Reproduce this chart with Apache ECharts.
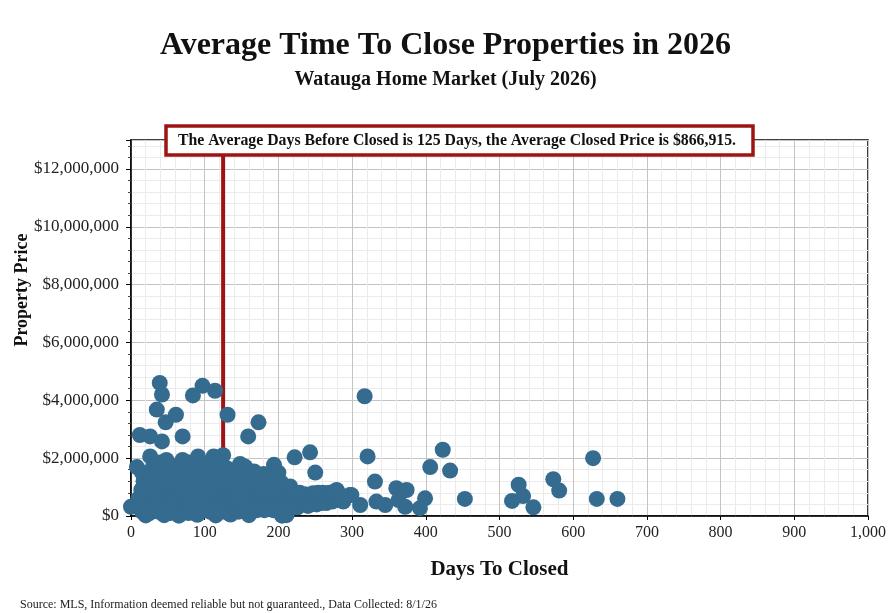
<!DOCTYPE html>
<html lang="en" style="background: #FFFFFF;height: 100%">
<head>
  <meta charset="utf-8" />
  <title>Average Time To Close Properties in 2026</title>
  <script src="https://cdn.jsdelivr.net/npm/echarts@6/dist/echarts.min.js"></script>
</head>
<body style="margin: 0;height: 100%">
<div id="chart" style="width: 891px;height: 613px"></div>
<script>
    // days on market before closing, and closed price, per property
    const days = [
        39, 42, 35, 47, 61, 12, 26, 42, 70, 84, 97, 114, 131, 159, 173,
        8, 26, 48, 70, 91, 112, 125, 148, 167, 194, 195, 222, 243, 250, 216, 279, 297, 0, 103,
        317, 321, 331, 423, 406, 433, 453, 627, 632, 660, 573, 581, 526, 517, 532, 546,
        360, 374, 399, 392, 372, 363, 345, 333, 311, 299, 266, 247, 232, 211, 211,
        15, 30, 38, 55, 62, 80, 85, 100, 108, 118, 130, 140, 150, 180, 200, 155,
        20, 45, 65, 90, 115, 135, 160, 205,
        10, 12, 14, 15, 17, 18, 20, 21, 22, 24, 25, 27, 28, 29, 30, 31, 32, 33, 34, 35,
        36, 37, 38, 40, 41, 43, 44, 45, 46, 47, 49, 50, 51, 52, 53, 54, 55, 56, 57, 58,
        59, 60, 62, 63, 64, 65, 66, 67, 68, 69, 71, 72, 73, 74, 75, 76, 77, 78, 79, 80,
        81, 82, 83, 85, 86, 87, 88, 89, 90, 92, 93, 94, 95, 96, 98, 99, 100, 101, 102, 104,
        105, 106, 107, 108, 109, 110, 111, 113, 115, 116, 117, 118, 119, 120, 121, 122, 123, 124, 126, 127,
        128, 129, 130, 132, 133, 134, 135, 136, 137, 138, 139, 140, 141, 142, 143, 144, 145, 146, 147, 149,
        150, 151, 152, 153, 154, 155, 156, 157, 158, 160, 161, 162, 163, 164, 165, 166, 168, 169, 170, 171,
        172, 174, 175, 176, 177, 178, 180, 181, 182, 184, 185, 186, 187, 188, 190, 191, 192, 193, 196, 197,
        198, 199, 200, 202, 203, 204, 205, 206, 207, 208, 209, 212, 213, 214, 215, 217, 218, 219, 220, 221,
        223, 224, 225, 226, 228, 229, 230, 231, 233, 234, 236, 237, 238, 240, 241, 242, 244, 245, 246, 248,
        249, 251, 252, 254, 255, 256, 258, 259, 260, 262, 263, 264, 265, 267, 268, 270, 272, 273, 275, 276,
        278, 280, 282, 285, 288
    ];
    const prices = [
        4600000, 4200000, 3680000, 3240000, 3500000, 2800000, 2750000, 2580000, 2750000, 4170000, 4500000, 4330000, 3500000, 2750000, 3240000,
        1690000, 2060000, 1940000, 1940000, 2060000, 2060000, 2100000, 1800000, 1540000, 1770000, 1360000, 2030000, 2200000, 1500000, 1020000, 900000, 730000, 320000, 1420000,
        4140000, 2060000, 1190000, 2290000, 1690000, 1570000, 590000, 2000000, 590000, 590000, 1270000, 880000, 1080000, 520000, 690000, 300000,
        960000, 900000, 610000, 270000, 320000, 550000, 380000, 500000, 380000, 730000, 790000, 790000, 610000, 90000, 30000,
        1500000, 1700000, 1850000, 1750000, 1600000, 1850000, 1550000, 1750000, 1600000, 1800000, 1650000, 1500000, 1600000, 1450000, 1500000, 1700000,
        20000, 30000, 10000, 40000, 20000, 50000, 30000, 10000,
        600000, 300000, 900000, 150000, 1200000, 450000, 750000, 250000, 1050000, 500000, 100000, 1350000, 650000, 350000, 850000, 200000, 1100000, 550000, 1500000, 400000,
        950000, 150000, 700000, 1250000, 300000, 800000, 500000, 1000000, 200000, 1400000, 600000, 350000, 900000, 1150000, 100000, 700000, 450000, 1300000, 250000, 850000,
        550000, 1050000, 150000, 650000, 400000, 1450000, 900000, 300000, 750000, 1200000, 500000, 200000, 1000000, 600000, 350000, 1650000, 800000, 100000, 1100000, 450000,
        700000, 250000, 1300000, 550000, 900000, 150000, 650000, 1050000, 400000, 800000, 1250000, 300000, 600000, 950000, 200000, 700000, 1150000, 450000, 850000, 300000,
        600000, 1000000, 150000, 750000, 500000, 1300000, 350000, 900000, 200000, 650000, 1100000, 450000, 800000, 250000, 1550000, 550000, 950000, 350000, 700000, 150000,
        1200000, 500000, 850000, 300000, 650000, 1050000, 200000, 750000, 450000, 1350000, 600000, 950000, 250000, 800000, 400000, 1150000, 550000, 150000, 700000, 1000000,
        350000, 850000, 500000, 250000, 1250000, 650000, 400000, 900000, 150000, 700000, 1100000, 450000, 250000, 800000, 550000, 1400000, 350000, 950000, 600000, 200000,
        750000, 1200000, 450000, 850000, 300000, 600000, 1000000, 200000, 700000, 450000, 1300000, 550000, 850000, 300000, 650000, 1050000, 400000, 200000, 750000, 500000,
        950000, 300000, 600000, 800000, 400000, 1150000, 250000, 550000, 900000, 700000, 350000, 500000, 750000, 200000, 600000, 400000, 850000, 300000, 650000, 500000,
        750000, 400000, 600000, 300000, 550000, 800000, 450000, 700000, 400000, 550000, 750000, 450000, 600000, 350000, 700000, 500000, 600000, 400000, 750000, 550000,
        450000, 650000, 400000, 800000, 550000, 700000, 450000, 600000, 800000, 500000, 650000, 750000, 450000, 550000, 700000, 800000, 600000, 500000, 650000, 750000,
        550000, 850000, 600000, 700000, 500000
    ];
    const avgDays = 125;
    const avgPrice = 866915;
    const xTicks = [0, 1000, 100];          // min, max, interval
    const yTicks = [0, 13000000, 2000000];

    const red = '#9e1414';
    const serif = '"Liberation Serif", "DejaVu Serif", serif';
    const money = v => '$' + v.toLocaleString('en-US');

    const chart = echarts.init(document.getElementById('chart'));
    const points = days.map((d, i) => [d, prices[i]]);

    chart.setOption({
        animation: false,
        textStyle: { fontFamily: serif },
        title: [
            {
                text: 'Average Time To Close Properties in 2026',
                left: 'center', top: 25,
                textStyle: { fontFamily: serif, fontSize: 32, fontWeight: 'bold', color: '#111' }
            },
            {
                text: 'Watauga Home Market (July 2026)',
                left: 'center', top: 65,
                textStyle: { fontFamily: serif, fontSize: 20, fontWeight: 'bold', color: '#111' }
            }
        ],
        grid: {
            left: 131, right: 23, top: 140, bottom: 97,
            show: true, borderColor: '#000', borderWidth: 1.5,
            containLabel: false
        },
        xAxis: {
            type: 'value',
            min: xTicks[0], max: xTicks[1], interval: xTicks[2],
            name: 'Days To Closed',
            nameLocation: 'middle', nameGap: 43,
            nameTextStyle: { fontFamily: serif, fontSize: 21, fontWeight: 'bold', color: '#111' },
            axisLine: { show: true, lineStyle: { color: '#000', width: 1.5 } },
            axisTick: { show: true, length: 4, lineStyle: { color: '#000' } },
            axisLabel: {
                fontFamily: serif, fontSize: 16, color: '#222', margin: 9,
                formatter: v => v.toLocaleString('en-US')
            },
            splitLine: { show: true, lineStyle: { color: '#c4c4c4', width: 1 } },
            minorTick: { show: false, splitNumber: 5 },
            minorSplitLine: { show: true, lineStyle: { color: '#ebebeb', width: 1 } }
        },
        yAxis: {
            type: 'value',
            min: yTicks[0], max: yTicks[1], interval: yTicks[2],
            axisLine: { show: true, lineStyle: { color: '#000', width: 1.5 } },
            axisTick: { show: true, length: 5, lineStyle: { color: '#000' } },
            minorTick: { show: true, splitNumber: 5, length: 3, lineStyle: { color: '#444' } },
            axisLabel: {
                fontFamily: serif, fontSize: 17, color: '#222', margin: 12,
                showMaxLabel: false,
                formatter: money
            },
            splitLine: { show: true, lineStyle: { color: '#c4c4c4', width: 1 } },
            minorSplitLine: { show: true, lineStyle: { color: '#ebebeb', width: 1 } }
        },
        series: [
            {
                type: 'line',
                data: [[avgDays, yTicks[0]], [avgDays, yTicks[1]]],
                symbol: 'none',
                lineStyle: { color: red, width: 4 },
                silent: true,
                z: 1
            },
            {
                type: 'scatter',
                data: points,
                symbolSize: 16,
                itemStyle: { color: '#346b8f', opacity: 1 },
                z: 2
            }
        ],
        graphic: [
            {
                type: 'rect',
                x: 166, y: 126, z: 100,
                shape: { x: 0, y: 0, width: 587, height: 29 },
                style: { fill: '#fff', stroke: red, lineWidth: 3.5 }
            },
            {
                type: 'text',
                x: 178, y: 141, z: 101,
                style: {
                    text: 'The Average Days Before Closed is ' + avgDays + ' Days, the Average Closed Price is ' + money(avgPrice) + '.',
                    font: 'bold 15.8px ' + serif,
                    fill: '#111',
                    verticalAlign: 'middle'
                }
            },
            {
                type: 'text',
                x: 22, y: 290, rotation: Math.PI / 2, z: 100,
                style: {
                    text: 'Property Price',
                    font: 'bold 18px ' + serif,
                    fill: '#111',
                    align: 'center',
                    verticalAlign: 'middle'
                }
            },
            {
                type: 'text',
                x: 20, y: 605, z: 100,
                style: {
                    text: 'Source: MLS, Information deemed reliable but not guaranteed., Data Collected: 8/1/26',
                    font: '12px ' + serif,
                    fill: '#222',
                    verticalAlign: 'middle'
                }
            }
        ]
    });

    window.addEventListener('resize', () => {
        chart?.resize();
    });
</script>
</body>
</html>
